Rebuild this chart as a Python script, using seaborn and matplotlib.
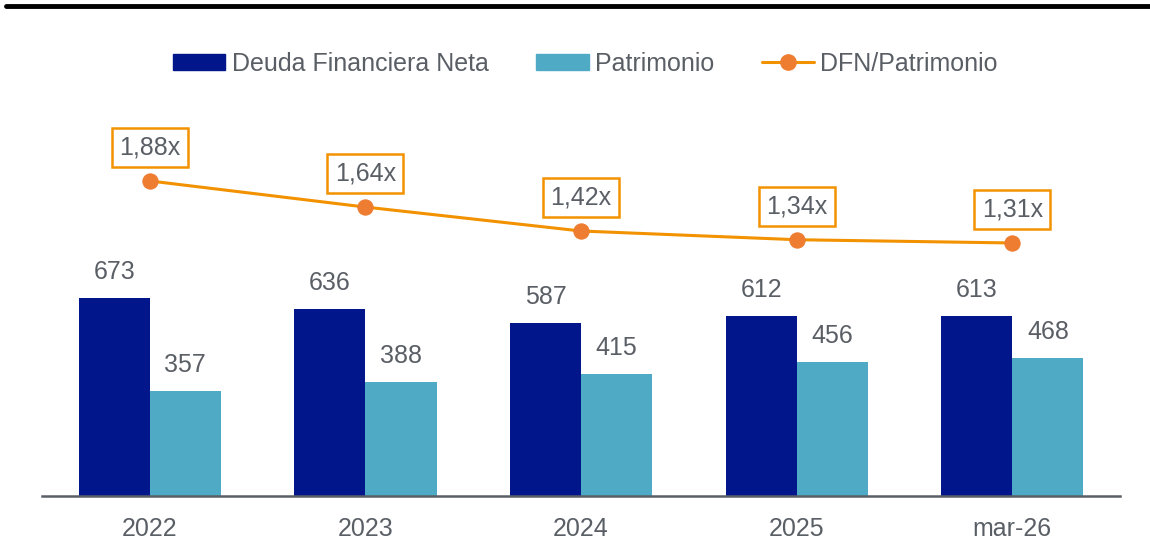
import pandas as pd
import matplotlib
matplotlib.use("Agg")
import matplotlib.pyplot as plt
import seaborn as sns
from matplotlib.lines import Line2D
from matplotlib.patches import Patch

# --------------------------------------------------
# Data
# --------------------------------------------------
periods = ["2022", "2023", "2024", "2025", "mar-26"]
deuda_neta = [673, 636, 587, 612, 613]
patrimonio = [357, 388, 415, 456, 468]
dfn_patrimonio = [1.88, 1.64, 1.42, 1.34, 1.31]

series_names = ["Deuda Financiera Neta", "Patrimonio"]
line_name = "DFN/Patrimonio"

NAVY = "#00168A"
LIGHT = "#4FAAC6"
ORANGE = "#F39200"
MARKER = "#EE7D31"
GRAY = "#5A5F66"

df = pd.DataFrame({
    "periodo": periods * 2,
    "serie": [series_names[0]] * len(periods) + [series_names[1]] * len(periods),
    "valor": deuda_neta + patrimonio,
})

# --------------------------------------------------
# Figure
# --------------------------------------------------
sns.set_style("white")
plt.rcParams["font.family"] = ["Liberation Sans", "DejaVu Sans"]

fig = plt.figure(figsize=(11.5, 5.39), dpi=100)
ax = fig.add_axes([0.0365, 0.0798, 0.9375, 0.7347])

sns.barplot(data=df, x="periodo", y="valor", hue="serie", order=periods,
            hue_order=series_names, palette=[NAVY, LIGHT], width=0.66,
            saturation=1, gap=0, linewidth=0, ax=ax, legend=False)

for cont in ax.containers:
    ax.bar_label(cont, labels=[f"{v:.0f}" for v in cont.datavalues],
                 padding=10, fontsize=18, color=GRAY)

ax.set_xlim(-0.5, len(periods) - 0.5)
ax.set_ylim(0, 1346)
ax.set_xlabel("")
ax.set_ylabel("")
ax.set_yticks([])
ax.tick_params(axis="x", length=0, labelsize=18, labelcolor=GRAY, pad=15)
for s in ["top", "right", "left"]:
    ax.spines[s].set_visible(False)
ax.spines["bottom"].set_color(GRAY)
ax.spines["bottom"].set_linewidth(1.8)

# ratio line on secondary axis
ax2 = ax.twinx()
x_idx = list(range(len(periods)))
sns.lineplot(x=x_idx, y=dfn_patrimonio, ax=ax2, color=ORANGE, linewidth=2.2,
             marker="o", markersize=11, markerfacecolor=MARKER,
             markeredgecolor=MARKER)
ax2.set_ylim(-1.015, 2.624)
ax2.set_yticks([])
for s in ["top", "right", "left", "bottom"]:
    ax2.spines[s].set_visible(False)

for xi, v in zip(x_idx, dfn_patrimonio):
    ax2.annotate(f"{v:.2f}x".replace(".", ","), (xi, v), xytext=(0, 24),
                 textcoords="offset points", ha="center", va="center",
                 fontsize=18, color=GRAY,
                 bbox=dict(boxstyle="square,pad=0.3", fc="white",
                           ec=ORANGE, lw=1.8))

# legend
handles = [
    Patch(facecolor=NAVY, edgecolor=NAVY),
    Patch(facecolor=LIGHT, edgecolor=LIGHT),
    Line2D([0], [0], color=ORANGE, lw=2.2, marker="o", markersize=11,
           markerfacecolor=MARKER, markeredgecolor=MARKER),
]
fig.legend(handles, series_names + [line_name], loc="center",
           bbox_to_anchor=(0.509, 0.882), ncol=3, frameon=False,
           fontsize=18, labelcolor=GRAY, handlelength=2.1, handleheight=0.6,
           handletextpad=0.25, columnspacing=1.9)

# top rule
fig.add_artist(Line2D([0.005, 1.0], [0.988, 0.988], color="black", lw=3.5,
                      transform=fig.transFigure))

plt.savefig("out.png", dpi=100)
